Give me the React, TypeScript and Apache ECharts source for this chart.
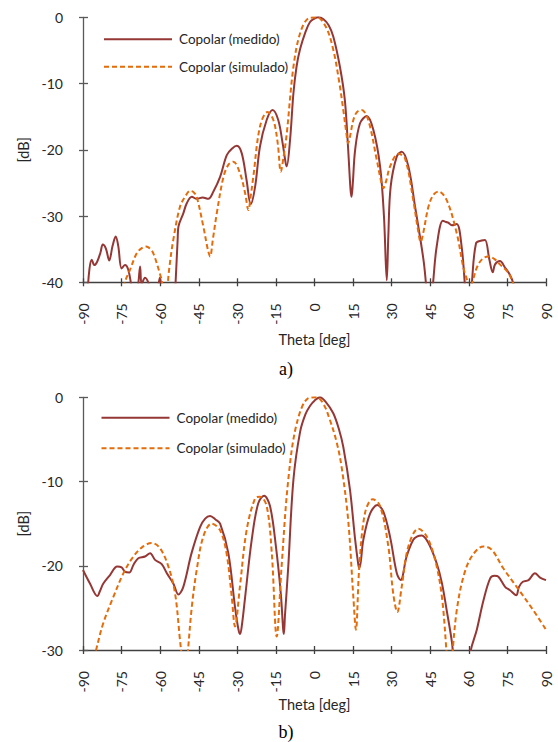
import React, { useEffect, useRef } from "react";
import * as echarts from "echarts";

// ---------- chart a) ----------
const thetaMeasA = [-88.3, -87.5, -86.6, -85.6, -84.5, -83.2, -82.3, -81.1, -79.8, -78.5, -77.3, -76.3, -75.0, -73.7, -72.4, -71.2, -70.0, -68.6, -67.8, -67.2, -65.9, -64.5, -63.0, -61.0, -60.1, -59.2, -57.0, -54.6, -54.0, -53.2, -52.9, -51.0, -49.7, -47.7, -45.8, -43.5, -41.3, -39.3, -36.7, -34.1, -32.0, -30.2, -28.3, -26.4, -24.8, -23.1, -21.2, -18.6, -16.3, -14.1, -12.4, -11.2, -10.8, -9.5, -8.2, -7.0, -5.6, -3.5, -1.75, 0, 1.5, 3.5, 5.5, 7.3, 9.9, 11.8, 13.1, 14.0, 14.4, 14.9, 15.8, 17.7, 20.3, 22.9, 25.5, 27.0, 28.1, 28.7, 29.6, 32.0, 33.9, 36.5, 39.1, 41.0, 42.5, 43.4, 44.5, 46.0, 47.5, 49.9, 51.2, 52.0, 53.4, 55.3, 57.2, 58.5, 59.8, 61.1, 62.8, 65.0, 66.3, 68.0, 69.3, 70.2, 72.1, 74.1, 76.0, 77.3, 78.0];
const dbMeasA = [-42, -38, -36.6, -37.4, -36.9, -35.5, -34.3, -34.9, -36.7, -34.5, -33.1, -34.5, -37.9, -37.4, -38.1, -40.5, -43, -40.5, -37.6, -40.3, -39.3, -40.2, -43, -41, -39.3, -42, -48, -44, -40, -33.5, -31.6, -29.6, -28.1, -27.1, -27.4, -27.2, -27.4, -26.3, -24.1, -20.8, -19.8, -19.4, -20.5, -24.6, -28.2, -25.6, -19.5, -15.5, -14.0, -15.5, -19.0, -22.0, -22.5, -18.5, -11.5, -7.5, -4.8, -2.2, -0.7, -0.2, 0, -0.3, -1.2, -2.9, -7.5, -12.5, -20, -26.0, -27.1, -25, -20, -16, -14.9, -17, -22.5, -30, -39.7, -33, -25.6, -21, -20.3, -22.5, -28.6, -33.1, -37, -40.5, -46, -40.5, -34.6, -30.7, -30.9, -31.0, -31.4, -31.2, -34.6, -40.5, -46, -40.5, -34.1, -33.7, -33.6, -36.6, -38.5, -37.3, -36.8, -37.8, -38.9, -40.2, -42];

const thetaSimA = [-74.2, -73.7, -71.7, -69.1, -67.0, -65.5, -64.0, -62.7, -60.1, -59.0, -58.0, -57.2, -56.5, -54.9, -52.3, -50.2, -48.4, -47.0, -45.8, -43.2, -41.5, -40.6, -39.5, -38.0, -35.4, -33.4, -31.6, -29.0, -27.0, -25.7, -24.8, -23.8, -21.2, -18.3, -16.0, -14.3, -13.1, -12.0, -10.8, -8.2, -5.6, -2.4, 0, 1.0, 4.5, 7.3, 9.5, 11.2, 12.4, 13.1, 13.8, 15.1, 16.5, 18.3, 20.9, 24.2, 25.8, 26.8, 27.8, 29.4, 32.6, 35.2, 38.4, 40.2, 41.3, 42.3, 44.3, 46.2, 48.2, 51.4, 55.3, 57.9, 59.8, 60.5, 61.1, 63.1, 65.2, 67.6, 70.0, 72.1, 75.4, 77.3, 78.0];
const dbSimA = [-42, -40, -38.1, -35.6, -34.8, -34.6, -34.9, -35.6, -38.7, -40.5, -44, -41, -38, -33.6, -28.6, -27, -26.2, -26.4, -27.1, -31.6, -35, -36.1, -33.5, -29.6, -24.1, -22.2, -21.8, -23.5, -26.5, -29.1, -27, -24.1, -16.5, -14.3, -15.5, -19, -23.3, -21, -17.6, -7.5, -2.4, -0.15, -0.02, 0, -1.5, -4.9, -9.5, -14.0, -17.5, -19, -18, -15.5, -14.3, -14.0, -15.5, -21.5, -24.6, -25.8, -24.8, -22.5, -20.6, -21.3, -27.6, -32, -33.9, -32.5, -28.6, -26.8, -26.3, -27.6, -32.6, -37.8, -40.3, -41.5, -40.5, -37.8, -36.5, -36.1, -36.5, -37.3, -38.6, -40.2, -41];

// ---------- chart b) ----------
const thetaMeasB = [-90, -87.3, -84.4, -83.4, -82.1, -79.5, -76.7, -75.0, -73.7, -72.0, -70.4, -68.5, -65.9, -63.9, -62.0, -59.4, -57.4, -54.9, -52.9, -51.0, -47.8, -44.5, -42.5, -40.6, -38.5, -36.7, -33.5, -30.9, -29.6, -28.9, -28.2, -27.0, -24.4, -21.9, -19.6, -17.3, -15.0, -13.1, -12.2, -11.9, -11.5, -10.2, -8.2, -5.6, -3.5, -1.7, 0, 2.1, 4.5, 7.3, 9.5, 11.2, 13.8, 15.8, 17.0, 17.4, 18.0, 19.0, 21.6, 24.4, 26.8, 29.4, 32.0, 33.5, 35.8, 38.4, 40.0, 41.7, 44.3, 47.5, 49.5, 51.4, 53.4, 54.0, 55.0, 60.0, 60.5, 63.1, 65.7, 68.3, 70.0, 71.5, 74.1, 76.0, 78.4, 79.5, 81.0, 83.2, 85.7, 87.7, 90];
const dbMeasB = [-20.5, -22.1, -23.6, -23.0, -22.1, -21.1, -20.1, -20.2, -20.7, -20.8, -19.9, -19.1, -18.9, -18.5, -19.3, -19.8, -20.9, -22.1, -23.4, -22.5, -18.5, -15.4, -14.4, -14.1, -14.5, -15.0, -18.5, -24.9, -27.5, -28.1, -27, -23.8, -16.9, -12.6, -11.7, -12.9, -17.7, -23.3, -27.5, -28.1, -26, -20.1, -9.8, -4.1, -2.0, -1.0, -0.4, 0, -0.6, -1.9, -3.8, -5.9, -11.0, -16.9, -19.8, -20.3, -19.5, -16.9, -13.8, -12.8, -13.6, -16.6, -20.9, -21.7, -18.9, -16.9, -16.5, -16.4, -17.3, -19.7, -22, -25.3, -29, -31, -35, -35, -30.5, -27.6, -24.1, -21.5, -21.2, -21.3, -22.5, -22.9, -23.5, -22.5, -21.9, -21.7, -20.9, -21.4, -21.7];

const thetaSimB = [-85.5, -84.9, -82.1, -78.2, -74.3, -70.4, -66.6, -63.3, -60.1, -56.8, -54.2, -52.3, -51.7, -50.5, -49.3, -47.7, -45.8, -43.2, -40.0, -36.7, -34.2, -32.2, -30.9, -29.0, -26.4, -23.1, -21.2, -18.6, -16.6, -14.7, -12.8, -10.2, -6.9, -2.4, 0.8, 3.5, 6.0, 8.5, 10.5, 13.1, 15.1, 16.1, 17.4, 19.6, 22.6, 25.5, 28.7, 30.6, 32.2, 33.9, 36.5, 40.4, 43.6, 46.9, 49.5, 51.4, 52.5, 53.6, 55.3, 57.9, 61.1, 65.7, 68.9, 73.4, 78.6, 85.1, 90];
const dbSimB = [-31, -30, -26.8, -23.7, -20.9, -18.9, -17.7, -17.3, -17.9, -20.1, -23.3, -28.8, -30.5, -35, -30.5, -24.9, -20.5, -16.5, -15.0, -15.8, -18.5, -23.6, -27.2, -22.5, -15.8, -12.0, -11.8, -12.9, -18.5, -28.4, -20.1, -9.8, -3.1, -0.1, 0, -0.8, -2.7, -5.2, -8.2, -14.6, -23.7, -27.6, -20.2, -13.8, -12.1, -12.9, -17.7, -23.3, -25.5, -22.5, -17.7, -15.6, -16.5, -19.3, -23.6, -30.5, -35, -30.5, -25.3, -21.3, -18.9, -17.7, -18.1, -20.3, -22.5, -25.3, -27.6];

const thetaTicks = [-90, 90, 15];
const dbRangeA = [-40, 0, 10];
const dbRangeB = [-30, 0, 10];

const nameMeas = "Copolar (medido)";
const nameSim = "Copolar (simulado)";

const zip = (xs: number[], ys: number[]) => xs.map((x, i) => [x, ys[i]]);

const FONT = "Lato";
const AXIS_COLOR = "#595959";
const TEXT_COLOR = "#262626";
const RED = "#953735";
const ORANGE = "#E46C0A";

function xAxes(grid: number, nameGap: number) {
  const base = {
    gridIndex: grid,
    type: "value",
    min: thetaTicks[0],
    max: thetaTicks[1],
    interval: thetaTicks[2],
    position: "bottom",
    splitLine: { show: false },
  };
  return [
    {
      ...base,
      name: "Theta [deg]",
      nameLocation: "middle",
      nameGap,
      nameTextStyle: { fontFamily: FONT, fontSize: 14.5, color: TEXT_COLOR },
      axisLine: { show: true, onZero: false, lineStyle: { color: "#404040", width: 1.3 } },
      axisTick: { show: true, inside: false, length: 4, lineStyle: { color: "#404040", width: 1.3 } },
      axisLabel: { show: true, rotate: 90, margin: 21, fontFamily: FONT, fontSize: 14, color: TEXT_COLOR },
    },
    {
      ...base,
      axisLine: { show: false, onZero: false },
      axisTick: { show: true, inside: true, length: 4, lineStyle: { color: "#404040", width: 1.3 } },
      axisLabel: { show: false },
    },
  ];
}

function yAxes(grid: number, range: number[]) {
  const base = {
    gridIndex: grid,
    type: "value",
    min: range[0],
    max: range[1],
    interval: range[2],
    position: "left",
    splitLine: { show: false },
  };
  return [
    {
      ...base,
      name: "[dB]",
      nameLocation: "middle",
      nameGap: 52,
      nameTextStyle: { fontFamily: FONT, fontSize: 14.5, color: TEXT_COLOR },
      axisLine: { show: true, onZero: false, lineStyle: { color: AXIS_COLOR, width: 1.3 } },
      axisTick: { show: true, inside: false, length: 4, lineStyle: { color: AXIS_COLOR, width: 1.3 } },
      axisLabel: { show: true, margin: 20, fontFamily: FONT, fontSize: 14, color: TEXT_COLOR },
    },
    {
      ...base,
      axisLine: { show: false, onZero: false },
      axisTick: { show: true, inside: true, length: 5, lineStyle: { color: AXIS_COLOR, width: 1.3 } },
      axisLabel: { show: false },
    },
  ];
}

function lineSeries(name: string, data: number[][], axis: number, dashed: boolean) {
  return {
    type: "line",
    name,
    data,
    xAxisIndex: axis,
    yAxisIndex: axis,
    symbol: "none",
    showSymbol: false,
    smooth: 0.35,
    clip: true,
    lineStyle: dashed
      ? { color: ORANGE, width: 2, type: [5, 3] }
      : { color: RED, width: 2 },
    itemStyle: { color: dashed ? ORANGE : RED },
    z: dashed ? 3 : 2,
  };
}

export default function App() {
  const ref = useRef<HTMLDivElement>(null);
  useEffect(() => {
    if (!ref.current) return;
    const chart = echarts.init(ref.current, null, { renderer: "svg" });
    const legendBase = {
      orient: "vertical",
      itemWidth: 68,
      itemHeight: 14,
      padding: 0,
      data: [nameMeas, nameSim],
      itemStyle: { opacity: 0 },
      textStyle: { fontFamily: FONT, fontSize: 13.5, color: TEXT_COLOR, padding: [0, 0, 0, 2] },
      selectedMode: false,
    };
    chart.setOption({
      animation: false,
      backgroundColor: "#ffffff",
      grid: [
        { left: 83, top: 17.3, width: 463, height: 265 },
        { left: 83, top: 397.3, width: 463, height: 252.7 },
      ],
      legend: [
        { ...legendBase, left: 103, top: 32.3, itemGap: 13.4 },
        { ...legendBase, left: 100.5, top: 410.7, itemGap: 16.6 },
      ],
      xAxis: [...xAxes(0, 50), ...xAxes(1, 47)],
      yAxis: [...yAxes(0, dbRangeA), ...yAxes(1, dbRangeB)],
      series: [
        lineSeries(nameMeas, zip(thetaMeasA, dbMeasA), 0, false),
        lineSeries(nameSim, zip(thetaSimA, dbSimA), 0, true),
        lineSeries(nameMeas, zip(thetaMeasB, dbMeasB), 2, false),
        lineSeries(nameSim, zip(thetaSimB, dbSimB), 2, true),
      ],
      graphic: [
        {
          type: "text",
          x: 286,
          y: 369,
          style: { text: "a)", fontFamily: "Liberation Serif", fontSize: 18, fill: "#000", align: "center", verticalAlign: "middle" },
        },
        {
          type: "text",
          x: 286,
          y: 732,
          style: { text: "b)", fontFamily: "Liberation Serif", fontSize: 18, fill: "#000", align: "center", verticalAlign: "middle" },
        },
      ],
    });
    return () => chart.dispose();
  }, []);
  return (
    <div
      ref={ref}
      style={{ position: "absolute", left: 0, top: 0, width: 558, height: 742 }}
    />
  );
}
